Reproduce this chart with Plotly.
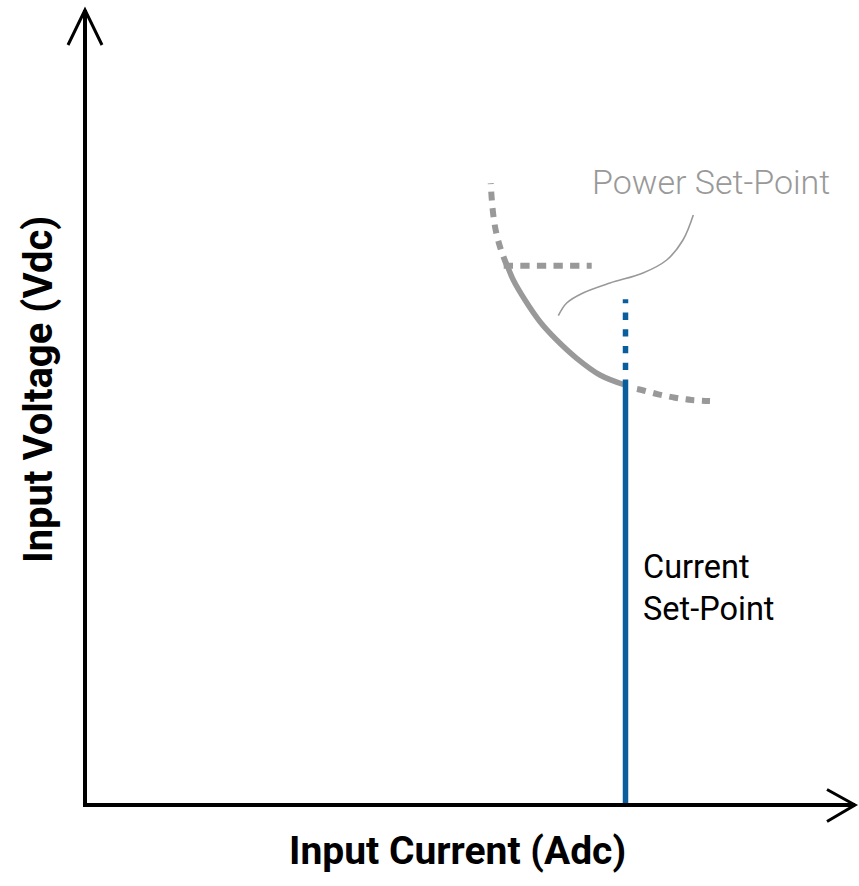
import plotly.graph_objects as go

# ---- data (arbitrary units: current I on x, voltage V on y) ----
# power set-point curve, upper dotted part (from junction outward)
power_up_I = [42.17, 41.57, 41.10, 40.83, 40.67, 40.57]
power_up_V = [54.00, 55.60, 57.33, 59.00, 60.67, 62.17]
# power set-point curve, solid (active) part
power_I = [42.17, 42.83, 44.00, 45.50, 47.17, 49.17, 51.50, 54.00]
power_V = [54.10, 52.50, 50.50, 48.33, 46.50, 44.67, 43.00, 42.00]
# power set-point curve, lower dotted part
power_lo_I = [55.20, 55.67, 57.33, 59.00, 60.67, 62.50]
power_lo_V = [41.60, 41.50, 41.07, 40.73, 40.50, 40.40]
# horizontal dotted voltage level
hline_I = [41.87, 50.67]
hline_V = [53.93, 53.93]
# current set-point
current_setpoint = 54.05
current_solid_V = [0.0, 42.55]
current_dotted_V = [43.50, 50.57]
# leader line from "Power Set-Point" label
leader_I = [60.83, 59.80, 58.17, 55.80, 52.50, 49.80, 48.17, 47.33]
leader_V = [59.00, 56.50, 54.50, 53.20, 52.20, 51.20, 50.20, 48.93]
# axes extents
x_axis_end = 77.0
y_axis_end = 79.5

GREY = "#999999"
BLUE = "#0a5e9c"

fig = go.Figure()

fig.add_trace(go.Scatter(x=power_up_I, y=power_up_V, mode="lines", line_shape="spline",
                         line=dict(color=GREY, width=6, dash="9px,7.6px"), hoverinfo="skip"))
fig.add_trace(go.Scatter(x=power_lo_I, y=power_lo_V, mode="lines", line_shape="spline",
                         line=dict(color=GREY, width=6, dash="9px,7.6px"), hoverinfo="skip"))
fig.add_trace(go.Scatter(x=hline_I, y=hline_V, mode="lines",
                         line=dict(color=GREY, width=6, dash="9.3px,7.3px"), hoverinfo="skip"))
fig.add_trace(go.Scatter(x=power_I, y=power_V, mode="lines", line_shape="spline",
                         line=dict(color=GREY, width=5.5), hoverinfo="skip"))
fig.add_trace(go.Scatter(x=[current_setpoint] * 2, y=current_dotted_V, mode="lines",
                         line=dict(color=BLUE, width=5.5, dash="7.3px,9.4px"), hoverinfo="skip"))
fig.add_trace(go.Scatter(x=[current_setpoint] * 2, y=current_solid_V, mode="lines",
                         line=dict(color=BLUE, width=5.5), hoverinfo="skip"))
fig.add_trace(go.Scatter(x=leader_I, y=leader_V, mode="lines", line_shape="spline",
                         line=dict(color=GREY, width=1.6), hoverinfo="skip"))

# axes with open arrowheads
fig.add_shape(type="path", path=f"M 0,{y_axis_end} L 0,0 L {x_axis_end},0",
              line=dict(color="black", width=4), layer="above")
fig.add_shape(type="path", path=f"M -1.7,{y_axis_end-3.5} L 0,{y_axis_end} L 1.7,{y_axis_end-3.5}",
              line=dict(color="black", width=3), layer="above")
fig.add_shape(type="path", path=f"M {x_axis_end-2.8},1.55 L {x_axis_end},0 L {x_axis_end-2.8},-1.65",
              line=dict(color="black", width=3), layer="above")

W, H = 859, 886

def px(x):
    return x / W

def py(y):
    return 1 - y / H

FONT = "Roboto, Liberation Sans, Arial, sans-serif"

fig.add_annotation(text="Input Current (Adc)", xref="paper", yref="paper",
                   x=px(457.5), y=py(850.5), xanchor="center", yanchor="middle",
                   showarrow=False, font=dict(family=FONT, size=39, color="black", weight="bold"))
fig.add_annotation(text="Input Voltage (Vdc)", xref="paper", yref="paper", textangle=-90,
                   x=px(38), y=py(390), xanchor="center", yanchor="middle",
                   showarrow=False, font=dict(family=FONT, size=40, color="black", weight="bold"))
fig.add_annotation(text="Power Set-Point", xref="paper", yref="paper",
                   x=px(590), y=py(182), xanchor="left", yanchor="middle",
                   showarrow=False, font=dict(family=FONT, size=34, color=GREY, weight=300))
fig.add_annotation(text="Current<br>Set-Point", xref="paper", yref="paper", align="left",
                   x=px(641), y=py(588), xanchor="left", yanchor="middle",
                   showarrow=False, font=dict(family=FONT, size=32.5, color="black"))

fig.update_layout(
    width=W, height=H,
    margin=dict(l=0, r=0, t=0, b=0),
    paper_bgcolor="white", plot_bgcolor="white",
    showlegend=False,
    xaxis=dict(range=[-8.5, 77.4], visible=False, fixedrange=True),
    yaxis=dict(range=[-8.1, 80.5], visible=False, fixedrange=True),
)

fig.write_html("out.html", config={"displayModeBar": False},
               post_script="document.body.style.margin='0';document.body.style.overflow='hidden';")
